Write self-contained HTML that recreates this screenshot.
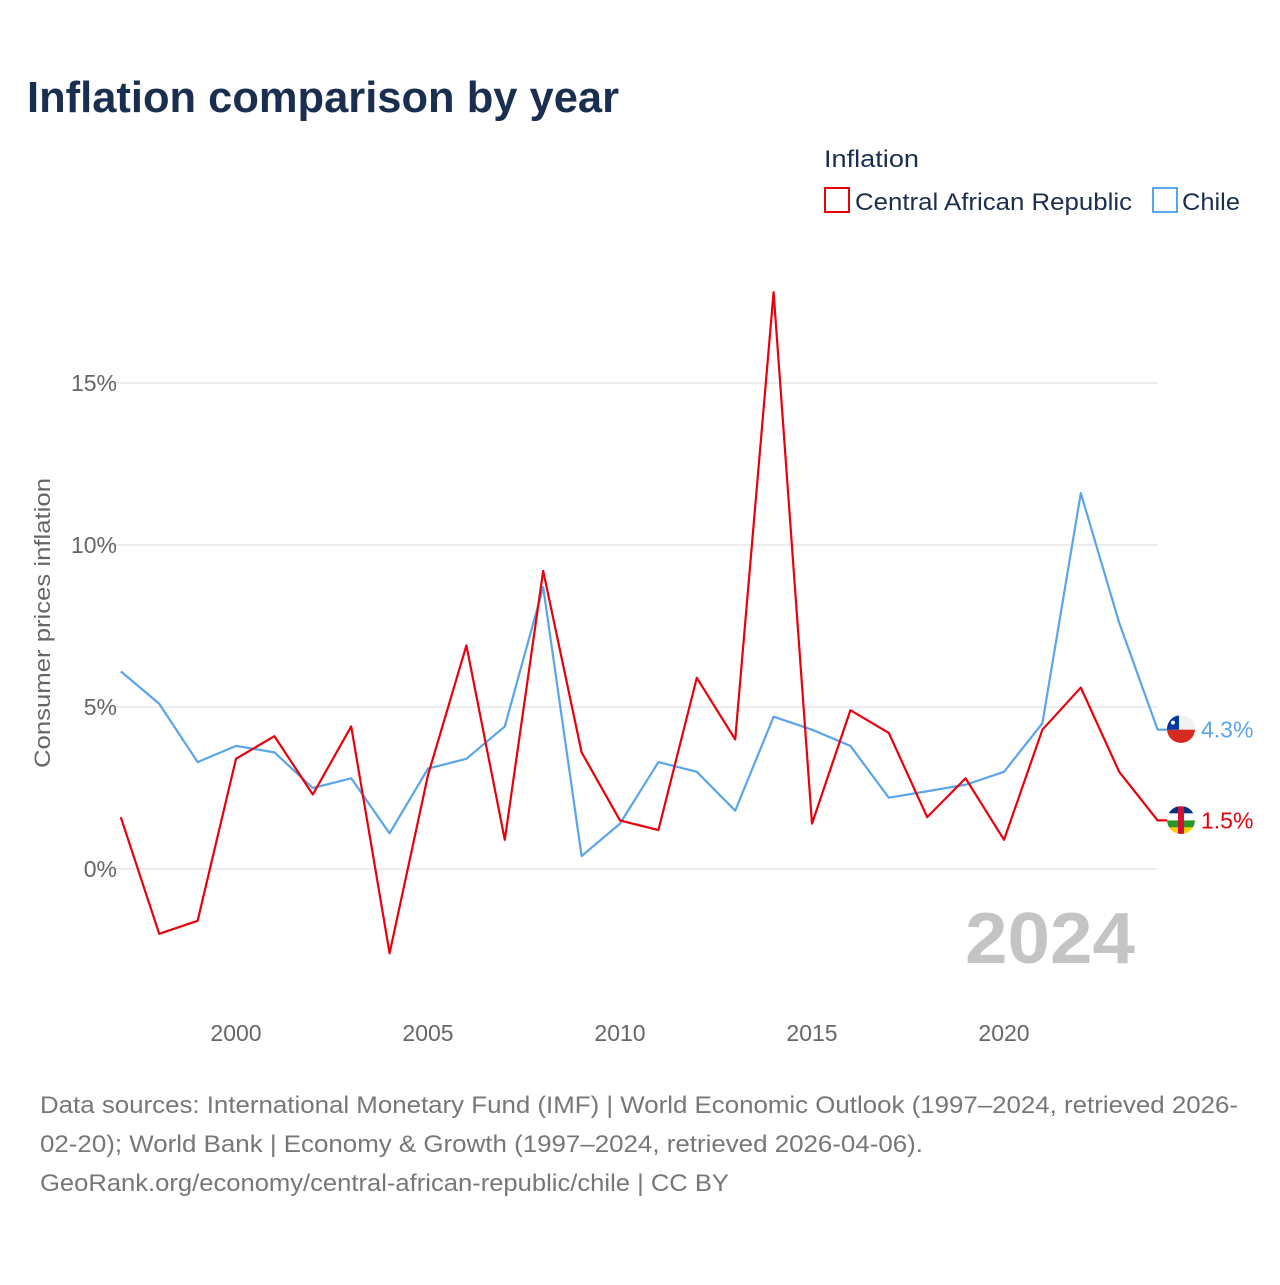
<!DOCTYPE html>
<html><head><meta charset="utf-8">
<style>
body{margin:0;background:#fff;font-family:"Liberation Sans",sans-serif;}
#wrap{position:relative;width:1280px;height:1280px;}
</style></head>
<body><div id="wrap">
<svg id="chart" width="1280" height="1280" font-family="Liberation Sans, sans-serif">
<defs>
<clipPath id="cf1"><circle cx="1181" cy="729" r="14"/></clipPath>
<clipPath id="cf2"><circle cx="1181" cy="820" r="14"/></clipPath>
</defs>
<text x="27" y="112" font-size="44" font-weight="bold" fill="#1a2e4f" textLength="592" lengthAdjust="spacingAndGlyphs">Inflation comparison by year</text>
<text x="824" y="167" font-size="24" fill="#1a2e4f" textLength="95" lengthAdjust="spacingAndGlyphs">Inflation</text>
<g><rect x="825" y="188" width="24" height="24" fill="none" stroke="#e8000b" stroke-width="2"/><text x="855" y="210" font-size="24" fill="#1a2e4f" textLength="277" lengthAdjust="spacingAndGlyphs">Central African Republic</text></g>
<g><rect x="1153" y="188" width="24" height="24" fill="none" stroke="#5aa5ea" stroke-width="2"/><text x="1182" y="210" font-size="24" fill="#1a2e4f" textLength="58" lengthAdjust="spacingAndGlyphs">Chile</text></g>
<text transform="translate(50,623) rotate(-90)" text-anchor="middle" font-size="22" fill="#666" textLength="290" lengthAdjust="spacingAndGlyphs">Consumer prices inflation</text>
<g id="grid"></g><g id="lines"></g>
<text x="1135" y="963" text-anchor="end" font-size="72" font-weight="bold" fill="#c4c4c4" textLength="170" lengthAdjust="spacingAndGlyphs">2024</text>
<text x="40" y="1113" font-size="24" fill="#777" textLength="1198" lengthAdjust="spacingAndGlyphs">Data sources: International Monetary Fund (IMF) | World Economic Outlook (1997–2024, retrieved 2026-</text>
<text x="40" y="1152" font-size="24" fill="#777" textLength="883" lengthAdjust="spacingAndGlyphs">02-20); World Bank | Economy &amp; Growth (1997–2024, retrieved 2026-04-06).</text>
<text x="40" y="1191" font-size="24" fill="#777" textLength="689" lengthAdjust="spacingAndGlyphs">GeoRank.org/economy/central-african-republic/chile | CC BY</text>
</svg></div>
<script>
const years=[1997,1998,1999,2000,2001,2002,2003,2004,2005,2006,2007,2008,2009,2010,2011,2012,2013,2014,2015,2016,2017,2018,2019,2020,2021,2022,2023,2024];
const carValues=[1.6,-2.0,-1.6,3.4,4.1,2.3,4.4,-2.6,2.9,6.9,0.9,9.2,3.6,1.5,1.2,5.9,4.0,17.8,1.4,4.9,4.2,1.6,2.8,0.9,4.3,5.6,3.0,1.5];
const chileValues=[6.1,5.1,3.3,3.8,3.6,2.5,2.8,1.1,3.1,3.4,4.4,8.7,0.4,1.4,3.3,3.0,1.8,4.7,4.3,3.8,2.2,2.4,2.6,3.0,4.5,11.6,7.6,4.3];
const yTicks=[0,5,10,15];
const xTicks=[2000,2005,2010,2015,2020];
const NS="http://www.w3.org/2000/svg";
const xs=y=>120.8+(y-1997)*38.4;
const ys=v=>869-v*32.4;
const grid=document.getElementById('grid'),lines=document.getElementById('lines');
function mk(tag,attrs,parent){const e=document.createElementNS(NS,tag);for(const k in attrs)e.setAttribute(k,attrs[k]);parent.appendChild(e);return e;}
yTicks.forEach(t=>{
 const l=mk('line',{x1:108,x2:1157,y1:ys(t),y2:ys(t),stroke:'#e6e6e6','stroke-width':1.5},grid);
 
 
 const tx=mk('text',{x:117,y:ys(t)+8,'text-anchor':'end','font-size':23,fill:'#666'},grid);tx.textContent=t+'%';
 
 
});
xTicks.forEach(t=>{
 const tx=mk('text',{x:xs(t),y:1041,'text-anchor':'middle','font-size':23,fill:'#666'},grid);tx.textContent=t;
 
 
});
function series(vals,color,name,flag){
 let d=vals.map((v,i)=>(i?'L':'M')+xs(years[i])+','+ys(v)).join(' ');
 d+=' L'+(xs(years[years.length-1])+10)+','+ys(vals[vals.length-1]);
 const p=mk('path',{d:d,fill:'none',stroke:color,'stroke-width':2.2,'stroke-linejoin':'round'},lines);
 
 
 const last=vals[vals.length-1];
 const cy=ys(last);
 const g=mk('g',{'clip-path':'url(#'+flag+')'},lines);
 
 
 if(name==='chile'){
  mk('rect',{x:1167,y:cy-14,width:28,height:14,fill:'#f2f2f2'},g);
  mk('rect',{x:1167,y:cy,width:28,height:14,fill:'#d52b1e'},g);
  mk('rect',{x:1167,y:cy-14,width:12,height:14,fill:'#0039a6'},g);
  mk('circle',{cx:1173,cy:cy-7,r:2,fill:'#fff'},g);
 } else {
  const cols=['#003082','#fff','#289728','#ffce00'];
  cols.forEach((c,i)=>mk('rect',{x:1167,y:cy-14+i*7,width:28,height:7,fill:c},g));
  mk('rect',{x:1178,y:cy-14,width:6,height:28,fill:'#d21034'},g);
 }
 const t=mk('text',{x:1201,y:cy+8,'font-size':23,fill:color},lines);t.textContent=last.toFixed(1)+'%';
 
 
}
series(chileValues,'#5aa5ea','chile','cf1');
series(carValues,'#e8000b','car','cf2');
</script>
</body></html>
